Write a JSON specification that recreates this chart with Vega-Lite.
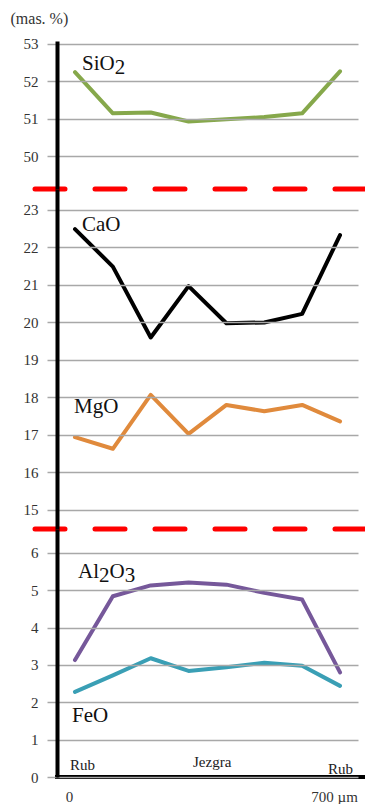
{
  "$schema": "https://vega.github.io/schema/vega-lite/v6.json",
  "padding": {"left": 10, "top": 10, "right": 0, "bottom": 0},
  "spacing": 0,
  "bounds": "flush",
  "config": {
    "view": {"stroke": null},
    "font": "Liberation Serif",
    "text": {"font": "Liberation Serif", "baseline": "alphabetic", "align": "left", "fontSize": 21, "color": "#111111"},
    "axis": {
      "grid": true, "gridColor": "#a8a8a8", "gridWidth": 1.5,
      "tickColor": "#a8a8a8", "tickSize": 10, "tickWidth": 1.5,
      "domainColor": "#000000", "domainWidth": 4,
      "labelFont": "Liberation Serif", "labelFontSize": 15, "labelColor": "#333333", "labelPadding": 9,
      "titleFont": "Liberation Serif", "titleFontSize": 16, "titleFontWeight": "normal", "titleColor": "#333333"
    }
  },
  "datasets": {
    "comp": [
      {"d": 0, "ox": "SiO2", "v": 52.25}, {"d": 100, "ox": "SiO2", "v": 51.15}, {"d": 200, "ox": "SiO2", "v": 51.17}, {"d": 300, "ox": "SiO2", "v": 50.93},
      {"d": 400, "ox": "SiO2", "v": 50.99}, {"d": 500, "ox": "SiO2", "v": 51.05}, {"d": 600, "ox": "SiO2", "v": 51.15}, {"d": 700, "ox": "SiO2", "v": 52.27},
      {"d": 0, "ox": "CaO", "v": 22.49}, {"d": 100, "ox": "CaO", "v": 21.49}, {"d": 200, "ox": "CaO", "v": 19.6}, {"d": 300, "ox": "CaO", "v": 20.97},
      {"d": 400, "ox": "CaO", "v": 19.98}, {"d": 500, "ox": "CaO", "v": 20.0}, {"d": 600, "ox": "CaO", "v": 20.23}, {"d": 700, "ox": "CaO", "v": 22.33},
      {"d": 0, "ox": "MgO", "v": 16.94}, {"d": 100, "ox": "MgO", "v": 16.63}, {"d": 200, "ox": "MgO", "v": 18.07}, {"d": 300, "ox": "MgO", "v": 17.03},
      {"d": 400, "ox": "MgO", "v": 17.8}, {"d": 500, "ox": "MgO", "v": 17.63}, {"d": 600, "ox": "MgO", "v": 17.8}, {"d": 700, "ox": "MgO", "v": 17.36},
      {"d": 0, "ox": "Al2O3", "v": 3.13}, {"d": 100, "ox": "Al2O3", "v": 4.84}, {"d": 200, "ox": "Al2O3", "v": 5.13}, {"d": 300, "ox": "Al2O3", "v": 5.21},
      {"d": 400, "ox": "Al2O3", "v": 5.15}, {"d": 500, "ox": "Al2O3", "v": 4.93}, {"d": 600, "ox": "Al2O3", "v": 4.75}, {"d": 700, "ox": "Al2O3", "v": 2.8},
      {"d": 0, "ox": "FeO", "v": 2.28}, {"d": 100, "ox": "FeO", "v": 2.72}, {"d": 200, "ox": "FeO", "v": 3.18}, {"d": 300, "ox": "FeO", "v": 2.84},
      {"d": 400, "ox": "FeO", "v": 2.94}, {"d": 500, "ox": "FeO", "v": 3.06}, {"d": 600, "ox": "FeO", "v": 2.98}, {"d": 700, "ox": "FeO", "v": 2.44}
    ]
  },
  "vconcat": [
    {
      "width": 301, "height": 148,
      "layer": [
        {
          "data": {"name": "comp"},
          "transform": [{"filter": "datum.ox === 'SiO2'"}],
          "mark": {"type": "line", "strokeWidth": 4, "strokeJoin": "round", "strokeCap": "round"},
          "encoding": {
            "x": {"field": "d", "type": "quantitative", "scale": {"domain": [-47.5, 747.5], "nice": false, "zero": false}, "axis": null},
            "y": {"field": "v", "type": "quantitative", "scale": {"domain": [49.13, 53.08], "nice": false, "zero": false},
                  "axis": {"values": [50, 51, 52, 53], "zindex": 1, "labelFont": "Liberation Serif", "title": "(mas. %)", "titleFont": "Liberation Serif", "titleAngle": 0, "titleAlign": "left", "titleBaseline": "alphabetic", "titleX": -47, "titleY": -18, "titleFontSize": 16}},
            "color": {"field": "ox", "type": "nominal", "legend": null,
                      "scale": {"domain": ["SiO2", "CaO", "MgO", "Al2O3", "FeO"], "range": ["#86a84b", "#000000", "#e08a3c", "#76589a", "#3a9fb5"]}}
          }
        },
        {"data": {"values": [{}]}, "mark": {"type": "text"}, "encoding": {"x": {"datum": 18.5}, "y": {"datum": 52.31}, "text": {"value": "SiO"}}},
        {"data": {"values": [{}]}, "mark": {"type": "text"}, "encoding": {"x": {"datum": 104.9}, "y": {"datum": 52.2}, "text": {"value": "2"}}},
        {
          "data": {"values": [{}]},
          "mark": {"type": "rule", "color": "#ff0000", "strokeWidth": 5, "strokeDash": [30, 30], "strokeCap": "round", "clip": false},
          "encoding": {"x": {"datum": -105.6}, "x2": {"datum": 766}, "y": {"datum": 49.13}}
        }
      ]
    },
    {
      "width": 301, "height": 340,
      "layer": [
        {
          "data": {"name": "comp"},
          "transform": [{"filter": "datum.ox === 'CaO' || datum.ox === 'MgO'"}],
          "mark": {"type": "line", "strokeWidth": 4, "strokeJoin": "round", "strokeCap": "round"},
          "encoding": {
            "x": {"field": "d", "type": "quantitative", "scale": {"domain": [-47.5, 747.5], "nice": false, "zero": false}, "axis": null},
            "y": {"field": "v", "type": "quantitative", "scale": {"domain": [14.49, 23.56], "nice": false, "zero": false},
                  "axis": {"values": [15, 16, 17, 18, 19, 20, 21, 22, 23], "zindex": 1, "labelFont": "Liberation Serif", "title": null}},
            "color": {"field": "ox", "type": "nominal", "legend": null,
                      "scale": {"domain": ["SiO2", "CaO", "MgO", "Al2O3", "FeO"], "range": ["#86a84b", "#000000", "#e08a3c", "#76589a", "#3a9fb5"]}}
          }
        },
        {"data": {"values": [{}]}, "mark": {"type": "text"}, "encoding": {"x": {"datum": 18.5}, "y": {"datum": 22.44}, "text": {"value": "CaO"}}},
        {"data": {"values": [{}]}, "mark": {"type": "text"}, "encoding": {"x": {"datum": -2.6}, "y": {"datum": 17.58}, "text": {"value": "MgO"}}},
        {
          "data": {"values": [{}]},
          "mark": {"type": "rule", "color": "#ff0000", "strokeWidth": 5, "strokeDash": [30, 30], "strokeCap": "round", "clip": false},
          "encoding": {"x": {"datum": -105.6}, "x2": {"datum": 766}, "y": {"datum": 14.49}}
        }
      ]
    },
    {
      "width": 301, "height": 248,
      "layer": [
        {
          "data": {"name": "comp"},
          "transform": [{"filter": "datum.ox === 'Al2O3' || datum.ox === 'FeO'"}],
          "mark": {"type": "line", "strokeWidth": 4, "strokeJoin": "round", "strokeCap": "round"},
          "encoding": {
            "x": {"field": "d", "type": "quantitative", "scale": {"domain": [-47.5, 747.5], "nice": false, "zero": false},
                  "axis": {"values": [0, 700], "grid": false, "ticks": false, "domain": false, "labelFont": "Liberation Serif", "labelPadding": 12, "labelOffset": -6, "labelExpr": "datum.value === 700 ? '700 µm' : datum.label", "title": null}},
            "y": {"field": "v", "type": "quantitative", "scale": {"domain": [0, 6.64], "nice": false, "zero": false},
                  "axis": {"values": [0, 1, 2, 3, 4, 5, 6], "zindex": 1, "labelFont": "Liberation Serif", "title": null}},
            "color": {"field": "ox", "type": "nominal", "legend": null,
                      "scale": {"domain": ["SiO2", "CaO", "MgO", "Al2O3", "FeO"], "range": ["#86a84b", "#000000", "#e08a3c", "#76589a", "#3a9fb5"]}}
          }
        },
        {"data": {"values": [{}]}, "mark": {"type": "text"}, "encoding": {"x": {"datum": 8}, "y": {"datum": 5.32}, "text": {"value": "Al"}}},
        {"data": {"values": [{}]}, "mark": {"type": "text"}, "encoding": {"x": {"datum": 63.4}, "y": {"datum": 5.21}, "text": {"value": "2"}}},
        {"data": {"values": [{}]}, "mark": {"type": "text"}, "encoding": {"x": {"datum": 91.1}, "y": {"datum": 5.32}, "text": {"value": "O"}}},
        {"data": {"values": [{}]}, "mark": {"type": "text"}, "encoding": {"x": {"datum": 131.2}, "y": {"datum": 5.21}, "text": {"value": "3"}}},
        {"data": {"values": [{}]}, "mark": {"type": "text"}, "encoding": {"x": {"datum": -8}, "y": {"datum": 1.46}, "text": {"value": "FeO"}}},
        {"data": {"values": [{}]}, "mark": {"type": "text", "fontSize": 15, "color": "#222222"}, "encoding": {"x": {"datum": -13}, "y": {"datum": 0.2}, "text": {"value": "Rub"}}},
        {"data": {"values": [{}]}, "mark": {"type": "text", "fontSize": 15, "color": "#222222"}, "encoding": {"x": {"datum": 311.7}, "y": {"datum": 0.27}, "text": {"value": "Jezgra"}}},
        {"data": {"values": [{}]}, "mark": {"type": "text", "fontSize": 15, "color": "#222222"}, "encoding": {"x": {"datum": 668}, "y": {"datum": 0.08}, "text": {"value": "Rub"}}},
        {
          "data": {"values": [{}]},
          "mark": {"type": "rule", "color": "#000000", "strokeWidth": 4, "strokeCap": "square", "clip": false},
          "encoding": {"x": {"datum": -47.5}, "x2": {"datum": 766}, "y": {"datum": 0}}
        }
      ]
    }
  ]
}
